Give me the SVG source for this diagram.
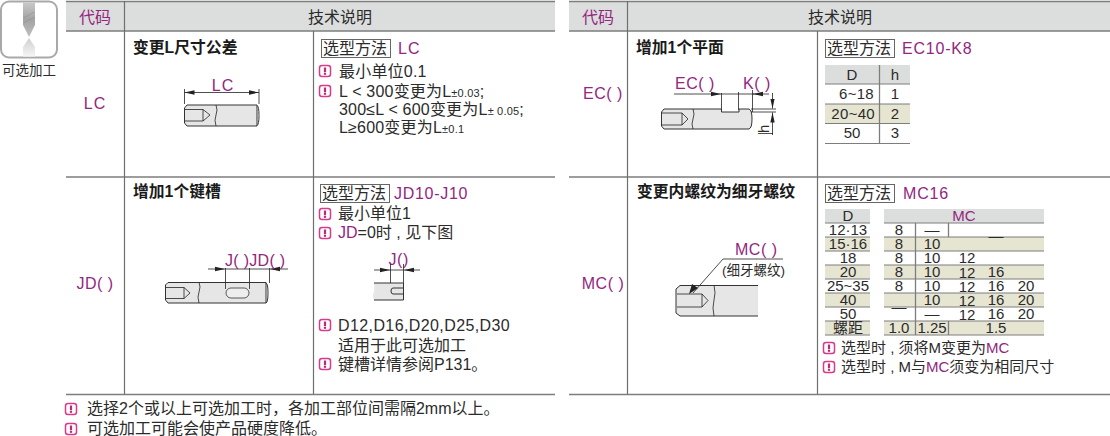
<svg xmlns="http://www.w3.org/2000/svg" width="1110" height="436" viewBox="0 0 1110 436">
<style>
text{font-family:"Liberation Sans","Noto Sans CJK SC",sans-serif;font-size:16px;fill:#2b2b2b}
.p{fill:#93267f}
.c{text-anchor:middle}
.b{font-weight:bold;font-size:15.800px;fill:#1a1a1a}
.t{font-size:15px}
.s{font-size:11px}
.hd{fill:#dcdddd}
.tan{fill:#e6e5d2}
.ln{stroke:#6f6f6f;stroke-width:1.2;fill:none}
.tl{stroke:#7d7d7d;stroke-width:1.3;fill:none}
.d{stroke:#222;stroke-width:.8;fill:none}
.body{fill:#e6e6e6;stroke:#333;stroke-width:1}
.th{fill:none;stroke:#333;stroke-width:1}
.box{fill:none;stroke:#666;stroke-width:1}
</style>
<defs>
<g id="warn"><rect x="-5.500" y="-5.500" width="11" height="11" rx="2.500" fill="#fff" stroke="#d93a8c" stroke-width="1.500"/><rect x="-1.100" y="-3.500" width="2.200" height="4.500" fill="#b82c75"/><circle cx="0" cy="2.700" r="1.200" fill="#b82c75"/></g>
<marker id="ar" markerWidth="11" markerHeight="6" refX="10" refY="3" orient="auto-start-reverse" markerUnits="userSpaceOnUse"><path d="M0,.8L10,3L0,5.200z" fill="#222"/></marker>
<linearGradient id="dr" x1="0" y1="0" x2="0" y2="1"><stop offset="0" stop-color="#c8c8c8"/><stop offset=".5" stop-color="#a3a3a3"/><stop offset="1" stop-color="#c0c0c0"/></linearGradient>
<linearGradient id="dr2" x1="0" y1="0" x2="0" y2="1"><stop offset="0" stop-color="#cfcfcf"/><stop offset="1" stop-color="#f6f6f6"/></linearGradient>
</defs>

<g id="icon">
<rect x="1" y="1.500" width="56" height="56" rx="8" fill="#fff" stroke="#a9a9a9" stroke-width="2"/>
<path d="M23,2.500H35V25L29,37L23,25z" fill="url(#dr)"/>
<path d="M29,38L35,47V56.500H23V47z" fill="url(#dr2)"/>
<path d="M23.500,18L34.500,12M23.500,23L34.500,17" stroke="#8a8a8a" stroke-width=".5" fill="none"/>
<text class="c" x="29" y="75" style="font-size:13.500px">可选加工</text>
</g>

<g id="table-left">
<rect class="hd" x="66" y="1" width="489" height="30"/>
<path class="tl" d="M66,1.500H555M66,31H555M66,177H555M66,394.500H555"/>
<path class="ln" d="M124.500,1V394M313.500,31V394"/>
<text class="p c" x="95" y="23">代码</text>
<text class="c" x="340" y="23">技术说明</text>
</g>

<g id="table-right">
<rect class="hd" x="569" y="1" width="541" height="30"/>
<path class="tl" d="M569,1.500H1110M569,31H1110M569,177H1110M569,394.500H1110"/>
<path class="ln" d="M627.500,1V394M817.500,31V394"/>
<text class="p c" x="598" y="23">代码</text>
<text class="c" x="840" y="23">技术说明</text>
</g>

<g id="row-lc">
<text class="p c" x="95" y="109" letter-spacing="1">LC</text>
<text class="b" x="133" y="53">变更L尺寸公差</text>
<rect class="box" x="321.500" y="39.500" width="69" height="18"/>
<text x="323" y="54">选型方法</text>
<text class="p" x="398" y="54" letter-spacing="1">LC</text>
<use href="#warn" x="325" y="71"/>
<text x="339" y="77" letter-spacing=".2">最小单位0.1</text>
<use href="#warn" x="325" y="91"/>
<text x="339" y="97" letter-spacing=".2">L &lt; 300变更为L<tspan class="s">±0.03</tspan>;</text>
<text x="339" y="115" letter-spacing=".2">300≤L &lt; 600变更为L<tspan class="s">± 0.05</tspan>;</text>
<text x="339" y="133" letter-spacing=".2">L≥600变更为L<tspan class="s">±0.1</tspan></text>
<path class="body" d="M187,105H257V126H187L184.500,123V108z"/>
<path class="th" d="M257,105.500q2,1 2,10q0,9 -2,10"/>
<path class="d" d="M216,105q2,5 0,10q-2,5 0,11M185,109.500H203V121H185M203,109.500L210,115L203,121"/>
<path class="d" d="M184.500,89V104M259,89V104"/>
<path class="d" marker-start="url(#ar)" marker-end="url(#ar)" d="M184.500,92.500H259"/>
<text class="p c" x="223" y="91" letter-spacing="1">LC</text>
</g>

<g id="row-jd">
<text class="p c" x="95" y="289" letter-spacing=".5">JD( )</text>
<text class="b" x="133" y="197">增加1个键槽</text>
<rect class="box" x="320.500" y="184.500" width="69" height="18"/>
<text x="322" y="199">选型方法</text>
<text class="p" x="394" y="199" letter-spacing=".7">JD10-J10</text>
<use href="#warn" x="325" y="214"/>
<text x="338" y="219">最小单位1</text>
<use href="#warn" x="325" y="233"/>
<text x="338" y="238"><tspan class="p">JD</tspan>=0时 , 见下图</text>
<use href="#warn" x="325" y="325"/>
<text x="338" y="331" letter-spacing=".4">D12,D16,D20,D25,D30</text>
<text x="338" y="351">适用于此可选加工</text>
<use href="#warn" x="325" y="364"/>
<text x="338" y="370">键槽详情参阅P131。</text>
<path class="body" d="M168,282.500H266V303H168L165.500,300V285z"/>
<path class="th" d="M266,283q2,1 2,10q0,9 -2,10"/>
<path class="d" d="M199,282q2,5 0,10q-2,5 0,11M166,287.500H184V298.500H166M184,287.500L190,293L184,298.500"/>
<rect x="226" y="288" width="23" height="10" rx="5" fill="#eee" stroke="#333" stroke-width=".8"/>
<path class="d" d="M225.500,268V289M249.500,268V289M269.500,268V283"/>
<path class="d" marker-end="url(#ar)" d="M208,269H225"/>
<path class="d" d="M225.500,269H269.500"/>
<path class="d" marker-end="url(#ar)" d="M288,269H270"/>
<text class="p" x="225" y="266" letter-spacing=".3">J( )JD( )</text>
<text class="p" x="388.500" y="265" letter-spacing=".6">J()</text>
<path class="d" marker-end="url(#ar)" d="M374,270H390"/>
<path class="d" marker-end="url(#ar)" d="M420,270H404"/>
<path class="d" d="M390.500,264V294M403.500,264V283M390,270H404"/>
<path d="M374,283H403.500V300H374q-2,-4 0,-8q1,-5 0,-9z" fill="#e6e6e6"/>
<path class="th" d="M374,283H403.500V300H374M403,288H393q-2,0 -2,3t2,3H403"/>
</g>

<g id="row-ec">
<text class="p c" x="603" y="99" letter-spacing=".5">EC( )</text>
<text class="b" x="636" y="53">增加1个平面</text>
<rect class="box" x="825.500" y="39.500" width="69" height="18"/>
<text x="827" y="54">选型方法</text>
<text class="p" x="902" y="54" letter-spacing=".8">EC10-K8</text>
<rect class="hd" x="825" y="65" width="85" height="19"/>
<rect class="tan" x="825" y="104" width="85" height="19"/>
<path class="tl" style="stroke-width:1" d="M825,84H910M825,104H910M825,123.500H910M825,143.500H910"/>
<path class="tl" d="M879.500,65V143.500"/>
<text class="c t" x="852" y="80">D</text><text class="c t" x="895" y="80">h</text>
<text class="t" style="text-anchor:end" x="874" y="99" letter-spacing=".3">6~18</text><text class="c t" x="895" y="99">1</text>
<text class="t" style="text-anchor:end" x="875" y="119" letter-spacing=".3">20~40</text><text class="c t" x="895" y="119">2</text>
<text class="c t" x="852" y="138">50</text><text class="c t" x="895" y="138">3</text>
<path class="body" d="M664,109H721.500V112H739V109H749q3,1 3,10q0,9 -3,10H664L661.500,126V112z"/>
<path class="d" d="M693,109q2,5 0,10q-2,5 0,10M662,113H682V125H662M682,113L688,119L682,125"/>
<path class="d" d="M721.500,93V110M738.500,92V110M752.500,90V112M751,109H776M751,112H776"/>
<path class="d" marker-end="url(#ar)" d="M674,94H721"/>
<path class="d" d="M721,94H754"/>
<path class="d" marker-end="url(#ar)" d="M769,94H753"/>
<path class="d" d="M772.500,93V108.500" marker-end="url(#ar)"/>
<path class="d" d="M772.500,135V112.500" marker-end="url(#ar)"/>
<text class="p" x="675" y="89" letter-spacing=".5">EC( )</text>
<text class="p" x="743" y="89" letter-spacing=".5">K( )</text>
<text transform="translate(769,133) rotate(-90)" x="0" y="0" class="t">h</text>
<path class="d" d="M758,133.500H773"/>
</g>

<g id="row-mc">
<text class="p c" x="603" y="289" letter-spacing=".5">MC( )</text>
<text class="b" x="637" y="197">变更内螺纹为细牙螺纹</text>
<rect class="box" x="825.500" y="184.500" width="69" height="18"/>
<text x="827" y="199">选型方法</text>
<text class="p" x="903" y="199" letter-spacing=".8">MC16</text>
<rect class="hd" x="825" y="209" width="45" height="14"/><rect class="hd" x="884" y="209" width="160" height="14"/>
<path class="tan" d="M825,237h45v14h-45zM884,237h160v14h-160zM825,265h45v14h-45zM884,265h160v14h-160zM825,293h45v14h-45zM884,293h160v14h-160zM825,321h45v14h-45zM884,321h160v14h-160z"/>
<path class="tl" style="stroke-width:1" d="M825,223H870M825,237H870M825,251H870M825,265H870M825,279H870M825,293H870M825,307H870M825,321H870M825,335H870M884,223H1044M884,237H1044M884,251H1044M884,265H1044M884,279H1044M884,293H1044M884,307H1044M884,321H1044M884,335H1044"/>
<path class="tl" d="M915.500,223V335M948.500,223V237M948.500,321V335"/>
<text class="c t" x="848" y="221">D</text><text class="p c t" x="964" y="221">MC</text>
<text class="c t" x="848" y="235">12·13</text><text class="c t" x="899" y="235">8</text><text class="c t" x="932" y="235">—</text>
<text class="c t" x="996" y="241">—</text>
<text class="c t" x="848" y="249">15·16</text><text class="c t" x="899" y="249">8</text><text class="c t" x="932" y="249">10</text>
<text class="c t" x="848" y="263">18</text><text class="c t" x="899" y="263">8</text><text class="c t" x="932" y="263">10</text><text class="c t" x="967" y="263">12</text>
<text class="c t" x="848" y="277">20</text><text class="c t" x="899" y="277">8</text><text class="c t" x="932" y="277">10</text><text class="c t" x="967" y="278">12</text><text class="c t" x="996" y="277">16</text>
<text class="c t" x="848" y="291">25~35</text><text class="c t" x="899" y="291">8</text><text class="c t" x="932" y="291">10</text><text class="c t" x="967" y="292">12</text><text class="c t" x="996" y="291">16</text><text class="c t" x="1026" y="291">20</text>
<text class="c t" x="848" y="305">40</text><text class="c t" x="899" y="312">—</text><text class="c t" x="932" y="305">10</text><text class="c t" x="967" y="306">12</text><text class="c t" x="996" y="305">16</text><text class="c t" x="1026" y="305">20</text>
<text class="c t" x="848" y="319">50</text><text class="c t" x="932" y="319">—</text><text class="c t" x="967" y="320">12</text><text class="c t" x="996" y="319">16</text><text class="c t" x="1026" y="319">20</text>
<text class="c t" x="848" y="333">螺距</text><text class="c t" x="899" y="333">1.0</text><text class="c t" x="932" y="333">1.25</text><text class="c t" x="996" y="333">1.5</text>
<use href="#warn" x="829" y="348"/>
<text x="841" y="353" class="t">选型时 , 须将M变更为<tspan class="p">MC</tspan></text>
<use href="#warn" x="829" y="367"/>
<text x="841" y="372" class="t">选型时 , M与<tspan class="p">MC</tspan>须变为相同尺寸</text>
<path d="M680,285.500H758V316H680L676,313V289z" fill="#e6e6e6"/>
<path class="th" d="M758,285.500H680L676,289V313L680,316H758"/>
<path class="d" d="M714,285q2,8 0,15q-2,8 0,16M677,294H702V307H677M702,294L708,300.500L702,307"/>
<path class="d" d="M783,259H723L693,293"/>
<path d="M689,294L698,288L692,284z" fill="#222"/>
<text class="p" x="735" y="255" letter-spacing=".5">MC( )</text>
<text x="722" y="275" style="font-size:13.500px">(细牙螺纹)</text>
</g>

<g id="notes">
<use href="#warn" x="71" y="409"/>
<text x="87" y="414">选择2个或以上可选加工时，各加工部位间需隔2mm以上。</text>
<use href="#warn" x="71" y="429"/>
<text x="87" y="434">可选加工可能会使产品硬度降低。</text>
</g>
</svg>
